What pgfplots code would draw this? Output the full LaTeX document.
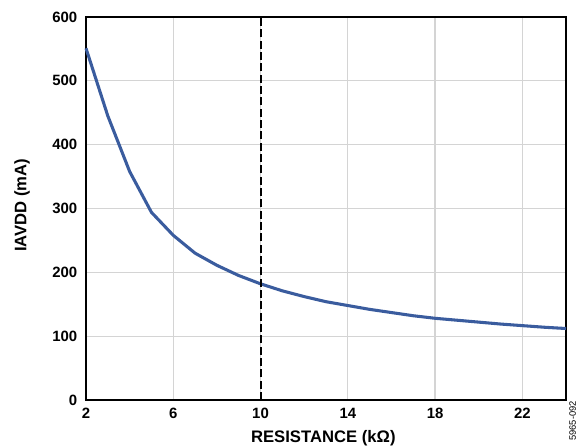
\documentclass[border=0pt]{standalone}
\usepackage{fontspec}
\setmainfont{Liberation Sans}
\usepackage{pgfplots}
\pgfplotsset{compat=1.18}
\definecolor{curveblue}{HTML}{3A5C9E}
\definecolor{gridgray}{HTML}{D4D4D4}
\begin{document}
\begin{tikzpicture}
\useasboundingbox (-64.5pt,-35.25pt) rectangle (375pt,300pt);
\begin{axis}[
  at={(0,0)}, anchor=south west,
  scale only axis,
  width=360pt, height=287.25pt,
  xmin=2, xmax=24, ymin=0, ymax=600,
  xtick={2,6,10,14,18,22},
  ytick={0,100,200,300,400,500,600},
  grid=major,
  major grid style={gridgray, line width=0.9pt},
  major tick length=0pt,
  axis line style={black, line width=1.5pt},
  /pgf/number format/assume math mode=true,
  tick label style={font=\fontsize{11.2}{13}\selectfont\bfseries},
  xticklabel style={yshift=-2.5pt},
  yticklabel style={xshift=-3pt},
  clip=false,
]
% supply current versus resistance
\addplot[curveblue, line width=2.3pt, line join=round] coordinates {
  (2,551) (3,445) (4,358) (5,294) (6,258) (7,230) (8,211) (9,195)
  (10,182) (11,171) (12,162) (13,154) (14,148) (15,142) (16,137)
  (17,132) (18,128) (19,125) (20,122) (21,119) (22,116.5) (23,114) (24,112)
};
% marker at the 10 kOhm setting
\addplot[black, line width=1.5pt, dash pattern=on 6pt off 2.5pt] coordinates {(10,0) (10,600)};
\end{axis}
\node[rotate=90, font=\fontsize{12.5}{14}\selectfont\bfseries] at (-48pt,146pt) {IAVDD (mA)};
\node[font=\fontsize{12.5}{14}\selectfont\bfseries] at (178pt,-29pt) {RESISTANCE (kΩ)};
\node[rotate=90, anchor=south west, font=\fontsize{7}{8}\selectfont] at (371pt,-34pt) {5965-092};
\end{tikzpicture}
\end{document}
